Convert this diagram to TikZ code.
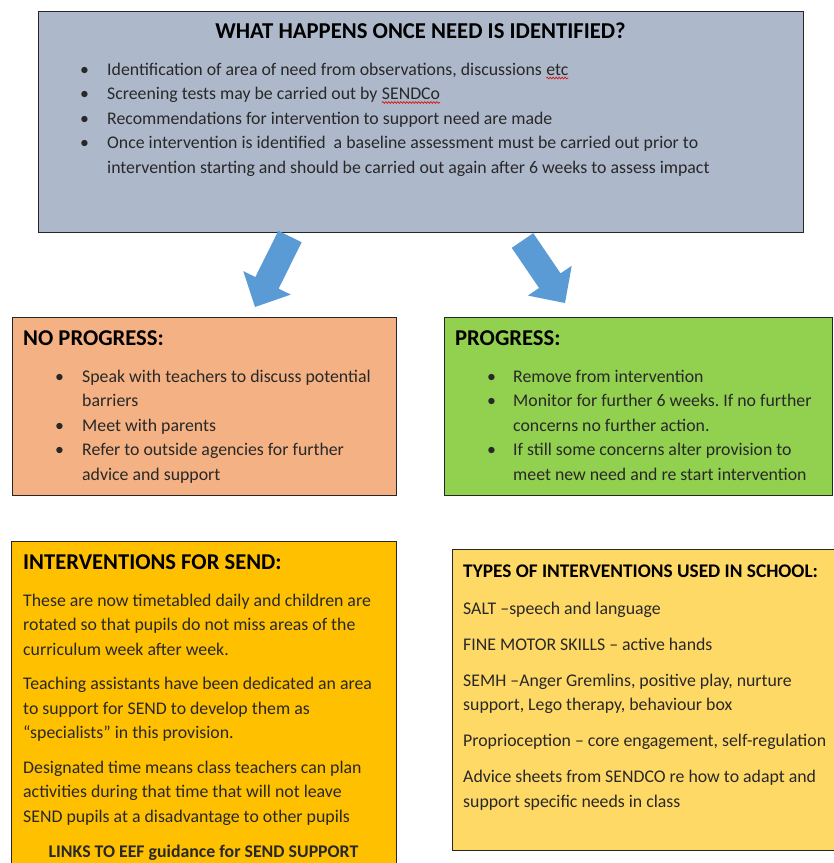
\documentclass[tikz,border=0pt]{standalone}
\usepackage{fontspec}
\setmainfont{Carlito}
\usetikzlibrary{calc,decorations.pathmorphing}
\definecolor{topfill}{RGB}{173,185,202}
\definecolor{nofill}{RGB}{244,177,131}
\definecolor{progfill}{RGB}{146,208,80}
\definecolor{sendfill}{RGB}{255,192,0}
\definecolor{typefill}{RGB}{255,217,102}
\definecolor{arrowblue}{RGB}{91,155,213}
\definecolor{textdark}{RGB}{40,40,40}
\definecolor{spellred}{RGB}{220,20,20}
\newcommand{\spellwave}[1]{\tikz[baseline=(sw.base)]{\node[inner sep=0pt, outer sep=0pt, anchor=base] (sw) at (0,0) {#1};
  \draw[spellred, line width=0.7pt, decorate, decoration={snake, amplitude=0.9pt, segment length=3pt}] ([yshift=-3pt]sw.base west) -- ([yshift=-3pt]sw.base east);}}
\frenchspacing
\tikzset{
  panel/.style={draw=black!85, line width=1.3pt},
  bodytext/.style={inner sep=0pt, anchor=base west, text=textdark, font=\fontsize{17.8}{24.5}\selectfont},
  headtext/.style={inner sep=0pt, anchor=base west, text=black, font=\fontsize{22.6}{26}\selectfont\bfseries},
  blockarrow/.style={fill=arrowblue, draw=none}
}
\newcommand{\blockarrowpath}[2]{%
  \fill[blockarrow]
    ($(#1)!13pt!90:(#2)$) --
    ($($(#2)!27pt!(#1)$)!13pt!90:(#2)$) --
    ($($(#2)!27pt!(#1)$)!26.5pt!90:(#2)$) --
    (#2) --
    ($($(#2)!27pt!(#1)$)!26.5pt!-90:(#2)$) --
    ($($(#2)!27pt!(#1)$)!13pt!-90:(#2)$) --
    ($(#1)!13pt!-90:(#2)$) -- cycle;}
\begin{document}
\begin{tikzpicture}[x=1pt,y=-1pt]
\useasboundingbox (0,0) rectangle (834,863);
% panels
\node[panel, fill=topfill, minimum width=765pt, minimum height=221pt, anchor=north west, inner sep=0pt] (top) at (38,11) {};
\node[panel, fill=nofill, minimum width=384pt, minimum height=178pt, anchor=north west, inner sep=0pt] (nop) at (12,317) {};
\node[panel, fill=progfill, minimum width=388pt, minimum height=178pt, anchor=north west, inner sep=0pt] (prog) at (444,317) {};
\node[panel, fill=sendfill, minimum width=385pt, minimum height=330pt, anchor=north west, inner sep=0pt] (send) at (11,541) {};
\node[panel, fill=typefill, minimum width=390pt, minimum height=301pt, anchor=north west, inner sep=0pt] (types) at (452,549) {};

% arrows
\coordinate (a1s) at (290,236.5);
\coordinate (a1e) at (255,307);
\coordinate (a2s) at (522.5,240.5);
\coordinate (a2e) at (565,303);
\blockarrowpath{a1s}{a1e}
\blockarrowpath{a2s}{a2e}

% top text
\node[headtext, anchor=base, font=\fontsize{22.7}{26}\selectfont\bfseries] (toptitle) at (420.5,38.5) {WHAT HAPPENS ONCE NEED IS IDENTIFIED?};
\node[bodytext] (toplist) at (80,75) {\begin{tabular}[t]{@{}p{27pt}@{}l@{}}
\textbullet & Identification of area of need from observations, discussions \spellwave{etc}\\
\textbullet & Screening tests may be carried out by \spellwave{SENDCo}\\
\textbullet & Recommendations for intervention to support need are made\\
\textbullet & Once intervention is identified\ \ a baseline assessment must be carried out prior to\\
 & intervention starting and should be carried out again after 6 weeks to assess impact
\end{tabular}};

% no progress
\node[headtext] (noptitle) at (23,345) {NO PROGRESS:};
\node[bodytext] (noplist) at (55,382) {\begin{tabular}[t]{@{}p{27pt}@{}l@{}}
\textbullet & Speak with teachers to discuss potential\\
 & barriers\\
\textbullet & Meet with parents\\
\textbullet & Refer to outside agencies for further\\
 & advice and support
\end{tabular}};

% progress
\node[headtext] (progtitle) at (455,345) {PROGRESS:};
\node[bodytext] (proglist) at (487,382) {\begin{tabular}[t]{@{}p{26pt}@{}l@{}}
\textbullet & Remove from intervention\\
\textbullet & Monitor for further 6 weeks. If no further\\
 & concerns no further action.\\
\textbullet & If still some concerns alter provision to\\
 & meet new need and re start intervention
\end{tabular}};

% interventions for SEND
\node[headtext] (sendtitle) at (23,569) {INTERVENTIONS FOR SEND:};
\node[bodytext] (sendtext) at (23,606) {\begin{tabular}[t]{@{}l@{}}
These are now timetabled daily and children are\\
rotated so that pupils do not miss areas of the\\
curriculum week after week.\\[10pt]
Teaching assistants have been dedicated an area\\
to support for SEND to develop them as\\
``specialists'' in this provision.\\[10pt]
Designated time means class teachers can plan\\
activities during that time that will not leave\\
SEND pupils at a disadvantage to other pupils
\end{tabular}};
\node[bodytext, anchor=base, font=\fontsize{17.8}{20}\selectfont\bfseries] (links) at (203.5,857) {LINKS TO EEF guidance for SEND SUPPORT};

% types
\node[headtext, font=\fontsize{19.3}{22}\selectfont\bfseries] (typestitle) at (463,577) {TYPES OF INTERVENTIONS USED IN SCHOOL:};
\node[bodytext] (typestext) at (463,614) {\begin{tabular}[t]{@{}l@{}}
SALT --speech and language\\[11.5pt]
FINE MOTOR SKILLS -- active hands\\[11.5pt]
SEMH --Anger Gremlins, positive play, nurture\\
support, Lego therapy, behaviour box\\[11.5pt]
Proprioception -- core engagement, self-regulation\\[11.5pt]
Advice sheets from SENDCO re how to adapt and\\
support specific needs in class
\end{tabular}};
\end{tikzpicture}
\end{document}
